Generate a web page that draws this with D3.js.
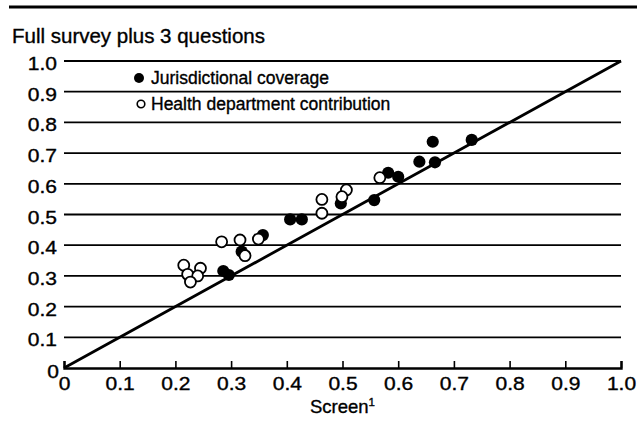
<!DOCTYPE html>
<html>
<head>
<meta charset="utf-8">
<script src="https://cdn.jsdelivr.net/npm/d3@7"></script>
<style>
  body { margin: 0; background: #fff; }
  svg { display: block; }
  text { font-family: "Liberation Sans", Arial, Helvetica, sans-serif; fill: #000; stroke: #000; stroke-width: 0.35px; }
</style>
</head>
<body>
<svg id="chart" width="644" height="421"></svg>
<script>
// Jurisdictional coverage (filled dots): [screen, full survey plus 3 questions]
const coverage = [
    [0.286, 0.316], [0.296, 0.303], [0.319, 0.379], [0.357, 0.433],
    [0.406, 0.484], [0.427, 0.484], [0.497, 0.536], [0.557, 0.547],
    [0.582, 0.636], [0.600, 0.623], [0.638, 0.672], [0.666, 0.670],
    [0.662, 0.737], [0.732, 0.743],
];

// Health department contribution (open dots)
const contribution = [
    [0.215, 0.335], [0.245, 0.325], [0.222, 0.305], [0.240, 0.300],
    [0.227, 0.280], [0.283, 0.411], [0.316, 0.417], [0.325, 0.366],
    [0.349, 0.420], [0.463, 0.549], [0.463, 0.504], [0.507, 0.580],
    [0.499, 0.558], [0.567, 0.620],
];

const ticks = [0, 0.1, 0.2, 0.3, 0.4, 0.5, 0.6, 0.7, 0.8, 0.9, 1.0];
const tickLabel = (d) => (d === 0 ? "0" : d.toFixed(1));

const title = "Full survey plus 3 questions";
const xTitle = "Screen";
const legendItems = [
    { name: "Jurisdictional coverage", filled: true },
    { name: "Health department contribution", filled: false },
];

const margin = { left: 64, right: 23, top: 61, bottom: 53 };
const width = 644;
const height = 421;
const dotR = 5.5;
const labelSize = "17.5px";
const labelStretch = 1.2; // the printed digits are wider than Arial's

const svg = d3.select("#chart");

const x = d3.scaleLinear().domain([0, 1]).range([margin.left, width - margin.right]);
const y = d3.scaleLinear().domain([0, 1]).range([height - margin.bottom, margin.top]);

// header rule
svg.append("line")
    .attr("x1", 9).attr("x2", 637)
    .attr("y1", 7).attr("y2", 7)
    .attr("stroke", "#000")
    .attr("stroke-width", 3);

svg.append("text")
    .attr("x", 12).attr("y", 43)
    .style("font-size", "20.5px")
    .text(title);

// horizontal grid lines
svg.append("g")
    .selectAll("line")
    .data(ticks.slice(1))
    .join("line")
    .attr("x1", x(0)).attr("x2", x(1))
    .attr("y1", (d) => y(d)).attr("y2", (d) => y(d))
    .attr("stroke", "#000")
    .attr("stroke-width", 1.8);

// y labels
svg.append("g")
    .selectAll("g")
    .data(ticks)
    .join("g")
    .attr("transform", (d) => `translate(${x(0) - (d === 0 ? 5 : 7)},${y(d) + (d === 0 ? 10 : 9)}) scale(${labelStretch},1)`)
    .append("text")
    .attr("text-anchor", "end")
    .style("font-size", labelSize)
    .text(tickLabel);

// x axis
const xAxis = d3.axisBottom(x)
    .tickValues(ticks)
    .tickSize(-7)
    .tickPadding(0)
    .tickFormat(tickLabel);

const gx = svg.append("g")
    .attr("transform", `translate(0,${y(0)})`)
    .call(xAxis);

gx.select(".domain").attr("stroke", "#000").attr("stroke-width", 2.4);
gx.selectAll(".tick line").attr("stroke", "#000").attr("stroke-width", 1.6);
gx.selectAll(".tick text")
    .attr("y", 22)
    .attr("dy", null)
    .attr("transform", `scale(${labelStretch},1)`)
    .style("font-size", labelSize)
    .style("font-family", '"Liberation Sans", Arial, sans-serif')
    .attr("fill", "#000");

const xt = svg.append("text")
    .attr("x", x(0.5))
    .attr("y", 413)
    .attr("text-anchor", "middle")
    .style("font-size", "18.5px")
    .text(xTitle);
xt.append("tspan")
    .attr("dy", -7)
    .style("font-size", "11.5px")
    .text("1");

// equality line
svg.append("line")
    .attr("x1", x(0)).attr("y1", y(0))
    .attr("x2", x(1)).attr("y2", y(1))
    .attr("stroke", "#000")
    .attr("stroke-width", 2.8);

// points
svg.append("g")
    .selectAll("circle")
    .data(coverage)
    .join("circle")
    .attr("cx", (d) => x(d[0]))
    .attr("cy", (d) => y(d[1]))
    .attr("r", dotR + 0.6)
    .attr("fill", "#000");

svg.append("g")
    .selectAll("circle")
    .data(contribution)
    .join("circle")
    .attr("cx", (d) => x(d[0]))
    .attr("cy", (d) => y(d[1]))
    .attr("r", dotR)
    .attr("fill", "#fff")
    .attr("stroke", "#000")
    .attr("stroke-width", 1.8);

// legend
const legend = svg.append("g").attr("transform", "translate(139,78)");
const li = legend.selectAll("g")
    .data(legendItems)
    .join("g")
    .attr("transform", (d, i) => `translate(0,${i * 26})`);

li.append("circle")
    .attr("cx", (d) => (d.filled ? 0 : 2))
    .attr("r", (d) => (d.filled ? 5 : 3.8))
    .attr("fill", (d) => (d.filled ? "#000" : "#fff"))
    .attr("stroke", "#000")
    .attr("stroke-width", (d) => (d.filled ? 0 : 1.6));

li.append("text")
    .attr("x", 12)
    .attr("y", 6)
    .style("font-size", "17.5px")
    .text((d) => d.name);
</script>
</body>
</html>
